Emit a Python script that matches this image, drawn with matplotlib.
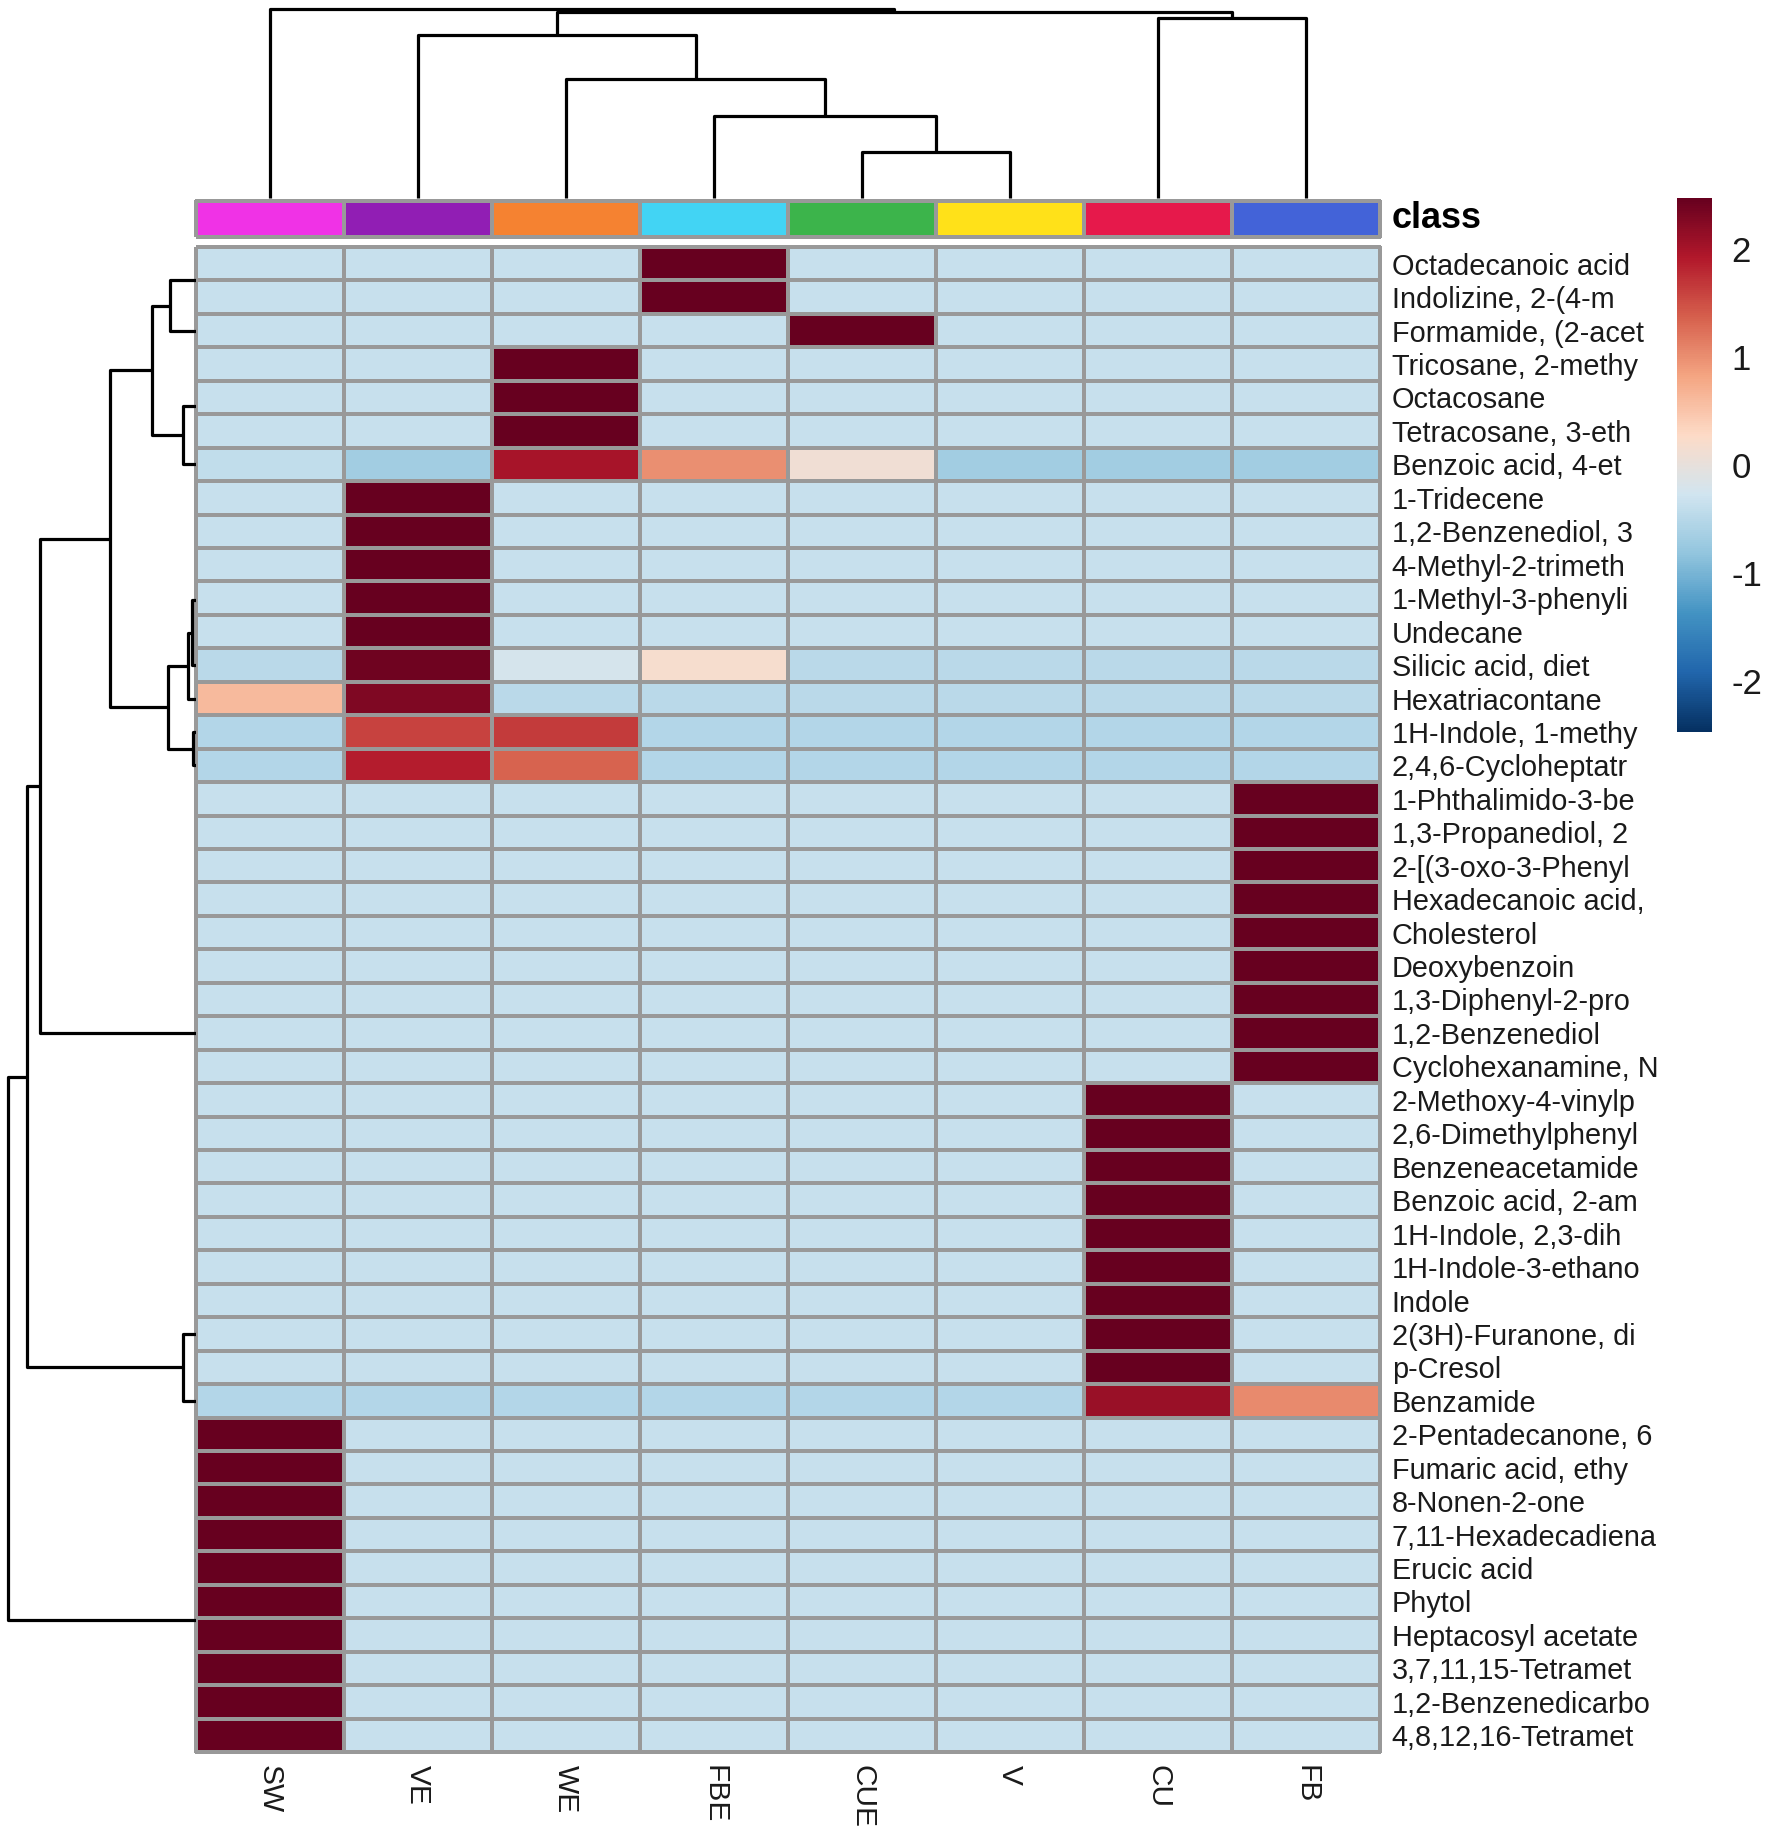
import numpy as np
import matplotlib.pyplot as plt
from matplotlib.colors import LinearSegmentedColormap, ListedColormap

plt.rcParams['font.family'] = ['Liberation Sans', 'DejaVu Sans']
plt.rcParams['axes.unicode_minus'] = False

# samples (columns) and their class colours
col_labels = ['SW', 'VE', 'WE', 'FBE', 'CUE', 'V', 'CU', 'FB']
class_colors = ['#f032e6', '#911eb4', '#f58231', '#42d4f4',
                '#3cb44b', '#ffe119', '#e6194b', '#4363d8']

row_labels = [
    'Octadecanoic acid', 'Indolizine, 2-(4-m', 'Formamide, (2-acet',
    'Tricosane, 2-methy', 'Octacosane', 'Tetracosane, 3-eth',
    'Benzoic acid, 4-et', '1-Tridecene', '1,2-Benzenediol, 3',
    '4-Methyl-2-trimeth', '1-Methyl-3-phenyli', 'Undecane',
    'Silicic acid, diet', 'Hexatriacontane', '1H-Indole, 1-methy',
    '2,4,6-Cycloheptatr', '1-Phthalimido-3-be', '1,3-Propanediol, 2',
    '2-[(3-oxo-3-Phenyl', 'Hexadecanoic acid,', 'Cholesterol',
    'Deoxybenzoin', '1,3-Diphenyl-2-pro', '1,2-Benzenediol',
    'Cyclohexanamine, N', '2-Methoxy-4-vinylp', '2,6-Dimethylphenyl',
    'Benzeneacetamide', 'Benzoic acid, 2-am', '1H-Indole, 2,3-dih',
    '1H-Indole-3-ethano', 'Indole', '2(3H)-Furanone, di',
    'p-Cresol', 'Benzamide', '2-Pentadecanone, 6',
    'Fumaric acid, ethy', '8-Nonen-2-one', '7,11-Hexadecadiena',
    'Erucic acid', 'Phytol', 'Heptacosyl acetate',
    '3,7,11,15-Tetramet', '1,2-Benzenedicarbo', '4,8,12,16-Tetramet',
]

# row-scaled values (z-scores)
L, H = -0.35, 2.47
values = [
    [L, L, L, H, L, L, L, L],
    [L, L, L, H, L, L, L, L],
    [L, L, L, L, H, L, L, L],
    [L, L, H, L, L, L, L, L],
    [L, L, H, L, L, L, L, L],
    [L, L, H, L, L, L, L, L],
    [-0.42, -0.68, 2.00, 0.99, 0.10, -0.68, -0.68, -0.68],
    [L, H, L, L, L, L, L, L],
    [L, H, L, L, L, L, L, L],
    [L, H, L, L, L, L, L, L],
    [L, H, L, L, L, L, L, L],
    [L, H, L, L, L, L, L, L],
    [-0.48, 2.40, -0.22, 0.18, -0.48, -0.48, -0.48, -0.48],
    [0.61, 2.29, -0.48, -0.48, -0.48, -0.48, -0.48, -0.48],
    [-0.53, 1.59, 1.65, -0.53, -0.53, -0.53, -0.53, -0.53],
    [-0.53, 1.89, 1.34, -0.53, -0.53, -0.53, -0.53, -0.53],
    [L, L, L, L, L, L, L, H],
    [L, L, L, L, L, L, L, H],
    [L, L, L, L, L, L, L, H],
    [L, L, L, L, L, L, L, H],
    [L, L, L, L, L, L, L, H],
    [L, L, L, L, L, L, L, H],
    [L, L, L, L, L, L, L, H],
    [L, L, L, L, L, L, L, H],
    [L, L, L, L, L, L, L, H],
    [L, L, L, L, L, L, H, L],
    [L, L, L, L, L, L, H, L],
    [L, L, L, L, L, L, H, L],
    [L, L, L, L, L, L, H, L],
    [L, L, L, L, L, L, H, L],
    [L, L, L, L, L, L, H, L],
    [L, L, L, L, L, L, H, L],
    [L, L, L, L, L, L, H, L],
    [L, L, L, L, L, L, H, L],
    [-0.53, -0.53, -0.53, -0.53, -0.53, -0.53, 2.10, 1.04],
    [H, L, L, L, L, L, L, L],
    [H, L, L, L, L, L, L, L],
    [H, L, L, L, L, L, L, L],
    [H, L, L, L, L, L, L, L],
    [H, L, L, L, L, L, L, L],
    [H, L, L, L, L, L, L, L],
    [H, L, L, L, L, L, L, L],
    [H, L, L, L, L, L, L, L],
    [H, L, L, L, L, L, L, L],
    [H, L, L, L, L, L, L, L],
]


def chain(first, last):
    # identical rows merged one by one at height 0
    node = first
    for i in range(first + 1, last + 1):
        node = (node, i, 0)
    return node


# dendrograms as nested (left, right, height)
col_tree = (0, ((1, (2, (3, (4, 5, 47), 83), 121), 165), (6, 7, 183), 189), 192)

grp_a = (((0, 1, 0), 2, 26), (((3, 4, 0), 5, 0), 6, 12.7), 44.3)
grp_b = (((chain(7, 11), 12, 4.3), 13, 7.7), (14, 15, 2.7), 27.7)
grp_fb = chain(16, 24)
grp_cu = (chain(25, 33), 34, 13.3)
grp_sw = (chain(35, 39), chain(40, 44), 0)
row_tree = ((((grp_a, grp_b, 86), grp_fb, 156), grp_cu, 169.3), grp_sw, 187.7)


def draw_tree(ax, node, top):
    if isinstance(node, int):
        return node + 0.5, 0
    left, right, h = node
    p1, h1 = draw_tree(ax, left, top)
    p2, h2 = draw_tree(ax, right, top)
    if h > 0:
        pos = [p1, p1, p2, p2]
        hts = [h1, h, h, h2]
        if top:
            ax.plot(pos, hts, color='black', lw=2.3, solid_capstyle='butt')
        else:
            ax.plot(hts, pos, color='black', lw=2.3, solid_capstyle='butt')
    return (p1 + p2) / 2, h


W, Hpx = 1772, 1834
fig = plt.figure(figsize=(W / 100, Hpx / 100), dpi=100)


def box(x0, y0, x1, y1):
    return [x0 / W, 1 - y1 / Hpx, (x1 - x0) / W, (y1 - y0) / Hpx]


ax_hm = fig.add_axes(box(196, 247, 1380, 1752))
ax_cls = fig.add_axes(box(196, 201, 1380, 237))
ax_top = fig.add_axes(box(196, 0, 1380, 201))
ax_left = fig.add_axes(box(0, 247, 196, 1752))
cax = fig.add_axes(box(1677, 198, 1712, 732))

ramp = ['#053061', '#2166ac', '#4393c3', '#92c5de', '#d1e5f0',
        '#fddbc7', '#f4a582', '#d6604d', '#b2182b', '#67001f']
cmap = LinearSegmentedColormap.from_list('rdbu', ramp, N=256)

data = np.array(values)
mesh = ax_hm.pcolormesh(data, cmap=cmap, vmin=-2.47, vmax=2.47,
                        edgecolors='#999999', linewidth=1.6)
mesh.set_clip_on(False)
ax_hm.set_xlim(0, len(col_labels))
ax_hm.set_ylim(len(row_labels), 0)
for s in ax_hm.spines.values():
    s.set_visible(False)
ax_hm.yaxis.tick_right()
ax_hm.set_yticks(np.arange(len(row_labels)) + 0.5)
ax_hm.set_yticklabels(row_labels, fontsize=20.8, color='#1a1a1a')
ax_hm.set_xticks(np.arange(len(col_labels)) + 0.5)
ax_hm.set_xticklabels(col_labels, fontsize=21.5, rotation=270, color='#1a1a1a')
ax_hm.tick_params(axis='y', length=0, pad=8.5)
ax_hm.tick_params(axis='x', length=0, pad=9.5)

# class annotation bar
cls = ax_cls.pcolormesh(np.arange(len(col_labels))[None, :],
                        cmap=ListedColormap(class_colors),
                        edgecolors='#999999', linewidth=1.6)
cls.set_clip_on(False)
ax_cls.set_xlim(0, len(col_labels))
ax_cls.set_ylim(0, 1)
ax_cls.axis('off')
ax_cls.annotate('class', xy=(1, 0.5), xycoords='axes fraction',
                xytext=(8.5, 0), textcoords='offset points',
                fontsize=26, fontweight='bold', va='center', ha='left')

# dendrograms
draw_tree(ax_top, col_tree, True)
ax_top.set_xlim(0, len(col_labels))
ax_top.set_ylim(-3, 201)
ax_top.axis('off')

draw_tree(ax_left, row_tree, False)
ax_left.set_ylim(len(row_labels), 0)
ax_left.set_xlim(196, 0)
ax_left.axis('off')

cb = fig.colorbar(mesh, cax=cax, ticks=[-2, -1, 0, 1, 2])
cb.outline.set_visible(False)
cax.tick_params(length=0, labelsize=25, pad=14, colors='#1a1a1a')

fig.savefig('out.png', dpi=100)
